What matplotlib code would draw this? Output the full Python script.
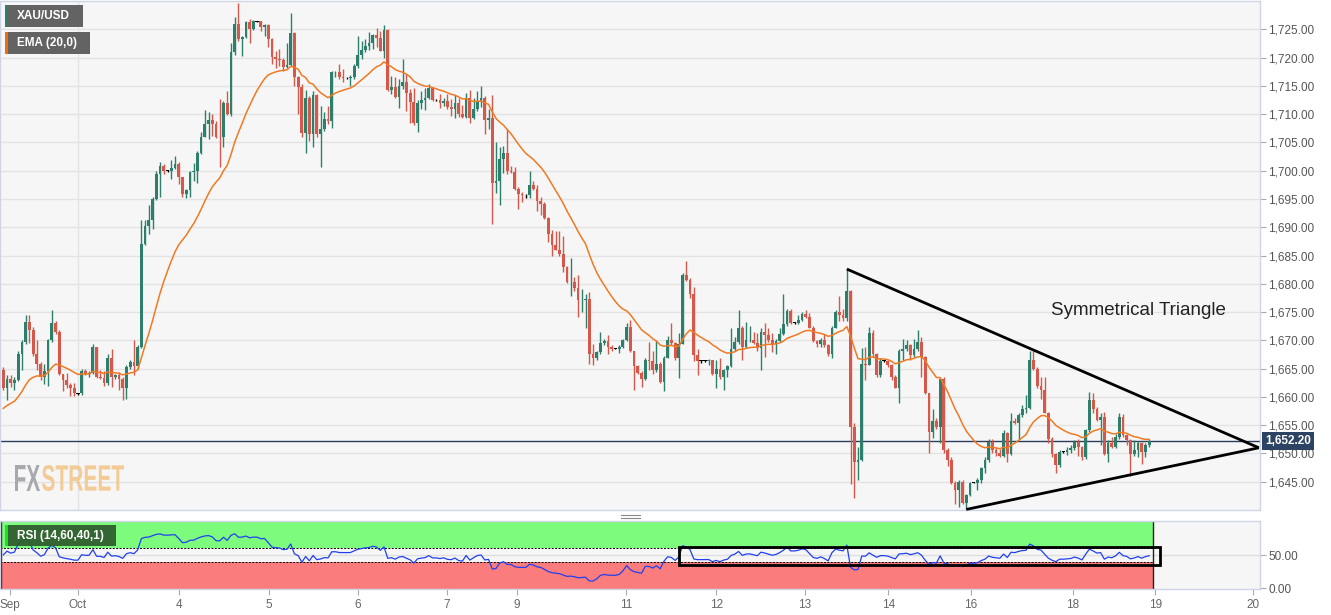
import matplotlib
matplotlib.use('Agg')
import matplotlib.pyplot as plt
import matplotlib.transforms as mtransforms
from matplotlib.patches import Rectangle, PathPatch
from matplotlib.textpath import TextPath
from matplotlib.font_manager import FontProperties
import numpy as np

plt.rcParams['font.family'] = ['Liberation Sans', 'DejaVu Sans']

# ---- data: XAU/USD hourly candles (open of each candle = previous close) ----
first_open = 1664.7
closes = [
    1661.5, 1663.2, 1662.4, 1662.9, 1667.6, 1669.7, 1673.2, 1671.8, 1667.6, 1665.9,
    1663.5, 1664.6, 1670.0, 1673.1, 1671.5, 1664.0, 1662.9, 1662.1, 1661.5, 1660.6,
    1660.6, 1664.6, 1664.1, 1664.2, 1668.8, 1663.5, 1663.4, 1662.4, 1666.9, 1663.5,
    1663.8, 1663.1, 1661.5, 1665.3, 1666.2, 1665.4, 1668.8, 1687.1, 1690.3, 1691.2,
    1695.0, 1699.4, 1700.9, 1700.0, 1700.0, 1700.5, 1701.2, 1698.8, 1695.9, 1696.5,
    1699.7, 1700.0, 1703.2, 1706.0, 1708.2, 1708.9, 1708.2, 1706.0, 1705.9, 1711.9,
    1710.0, 1720.9, 1725.9, 1723.2, 1723.6, 1726.2, 1725.0, 1726.4, 1726.4, 1725.4,
    1725.8, 1723.2, 1720.1, 1719.7, 1719.5, 1718.4, 1718.7, 1724.4, 1716.6, 1714.8,
    1706.6, 1712.8, 1706.4, 1713.3, 1706.4, 1707.4, 1709.1, 1708.7, 1717.4, 1717.5,
    1716.5, 1716.4, 1716.4, 1716.5, 1718.5, 1720.4, 1721.3, 1722.1, 1722.5, 1724.0,
    1723.5, 1721.2, 1724.8, 1714.2, 1714.8, 1713.1, 1715.0, 1715.6, 1713.8, 1712.1,
    1708.4, 1711.9, 1712.5, 1712.9, 1714.6, 1712.5, 1712.5, 1711.9, 1712.4, 1711.2,
    1710.9, 1711.9, 1710.0, 1709.5, 1712.9, 1709.3, 1710.9, 1712.4, 1712.8, 1708.9,
    1709.3, 1697.9, 1698.2, 1702.1, 1703.2, 1699.9, 1699.7, 1696.8, 1695.8, 1695.7,
    1695.7, 1697.5, 1696.8, 1694.7, 1694.1, 1691.6, 1688.8, 1686.8, 1686.0, 1685.3,
    1682.9, 1680.3, 1680.4, 1679.3, 1677.1, 1677.2, 1677.3, 1667.6, 1666.9, 1667.9,
    1669.5, 1669.9, 1668.8, 1668.5, 1668.5, 1668.8, 1670.1, 1672.4, 1668.1, 1665.4,
    1664.2, 1663.2, 1666.5, 1666.4, 1664.7, 1665.8, 1662.6, 1666.9, 1670.1, 1669.5,
    1666.9, 1669.4, 1681.6, 1680.7, 1678.2, 1667.4, 1666.4, 1666.4, 1666.4, 1666.5,
    1664.0, 1665.0, 1663.5, 1664.8, 1665.4, 1668.5, 1669.7, 1672.1, 1668.8, 1670.0,
    1670.1, 1669.5, 1668.7, 1671.5, 1670.9, 1670.1, 1669.4, 1669.9, 1671.1, 1672.8,
    1675.2, 1673.1, 1673.1, 1673.6, 1674.6, 1674.2, 1672.2, 1669.9, 1669.3, 1670.1,
    1669.1, 1667.6, 1672.2, 1675.0, 1674.4, 1674.0, 1678.8, 1654.7, 1648.5, 1648.9,
    1665.8, 1665.6, 1671.3, 1667.5, 1663.8, 1666.4, 1666.4, 1665.6, 1663.5, 1661.6,
    1668.1, 1668.5, 1669.1, 1667.4, 1668.4, 1669.7, 1667.1, 1660.6, 1653.8, 1655.8,
    1654.7, 1663.1, 1650.6, 1648.9, 1644.7, 1643.6, 1645.0, 1641.2, 1642.6, 1644.8,
    1644.8, 1645.3, 1647.4, 1648.8, 1652.1, 1650.6, 1650.1, 1649.5, 1653.6, 1649.9,
    1655.8, 1655.4, 1656.8, 1657.8, 1658.1, 1666.5, 1665.0, 1661.9, 1661.3, 1657.2,
    1652.6, 1649.9, 1647.9, 1650.3, 1650.3, 1650.6, 1650.9, 1652.1, 1651.1, 1649.4,
    1654.1, 1659.5, 1657.9, 1656.0, 1656.5, 1649.9, 1651.9, 1651.2, 1652.9, 1656.4,
    1653.2, 1652.4, 1649.9, 1650.6, 1651.8, 1650.3, 1651.5, 1652.2,
]
highs = [
    1665.3, 1663.8, 1663.8, 1663.5, 1668.1, 1670.0, 1674.4, 1674.4, 1672.4, 1670.0,
    1666.2, 1665.9, 1670.3, 1675.3, 1673.5, 1671.8, 1664.1, 1664.2, 1662.4, 1662.4,
    1660.7, 1665.0, 1665.0, 1664.6, 1669.4, 1668.9, 1664.7, 1664.6, 1667.5, 1668.4,
    1664.1, 1664.4, 1663.5, 1665.6, 1666.6, 1670.0, 1669.1, 1691.2, 1691.2, 1694.0,
    1695.3, 1700.0, 1701.5, 1701.2, 1700.1, 1701.8, 1702.6, 1701.5, 1698.8, 1696.8,
    1700.0, 1701.3, 1703.5, 1706.8, 1710.7, 1710.3, 1710.0, 1708.8, 1712.6, 1712.4,
    1714.0, 1722.6, 1727.1, 1729.7, 1723.8, 1726.5, 1726.8, 1726.6, 1726.5, 1726.2,
    1725.9, 1725.9, 1723.4, 1721.2, 1721.5, 1720.0, 1722.5, 1727.9, 1724.6, 1716.8,
    1715.3, 1714.2, 1713.2, 1714.1, 1713.5, 1711.5, 1710.3, 1711.5, 1717.6, 1717.6,
    1718.8, 1717.9, 1716.5, 1716.9, 1718.8, 1723.8, 1722.9, 1723.2, 1724.6, 1724.2,
    1725.2, 1724.7, 1725.8, 1725.0, 1716.8, 1716.6, 1716.2, 1719.7, 1717.1, 1714.4,
    1714.6, 1712.5, 1714.1, 1714.6, 1715.3, 1714.8, 1712.6, 1713.5, 1712.9, 1713.5,
    1712.6, 1713.4, 1712.8, 1711.6, 1713.8, 1714.2, 1712.8, 1714.0, 1715.0, 1713.2,
    1710.9, 1713.4, 1705.0, 1704.1, 1704.4, 1707.4, 1700.9, 1700.7, 1697.2, 1696.2,
    1695.9, 1699.9, 1698.2, 1697.4, 1695.3, 1694.4, 1691.8, 1689.5, 1689.4, 1689.4,
    1688.5, 1683.1, 1684.6, 1681.2, 1681.5, 1679.1, 1678.2, 1678.5, 1669.4, 1668.2,
    1671.5, 1670.3, 1670.9, 1669.1, 1668.6, 1669.1, 1670.3, 1673.1, 1673.6, 1668.2,
    1665.6, 1664.6, 1666.9, 1669.7, 1668.1, 1669.9, 1666.2, 1667.2, 1670.7, 1673.1,
    1669.7, 1671.3, 1681.9, 1684.1, 1681.1, 1679.4, 1668.4, 1666.6, 1666.5, 1666.7,
    1666.2, 1666.6, 1666.8, 1665.0, 1665.6, 1672.2, 1670.6, 1675.3, 1672.5, 1673.2,
    1672.6, 1671.5, 1671.3, 1672.1, 1673.1, 1672.1, 1671.3, 1670.3, 1672.1, 1678.2,
    1675.6, 1675.6, 1673.2, 1674.4, 1675.0, 1675.4, 1674.8, 1672.5, 1670.1, 1670.5,
    1671.2, 1669.4, 1672.5, 1675.4, 1677.9, 1675.6, 1682.6, 1678.9, 1655.3, 1651.2,
    1668.7, 1668.8, 1672.4, 1671.8, 1667.8, 1666.8, 1666.5, 1666.6, 1665.9, 1663.8,
    1668.5, 1670.3, 1670.1, 1669.4, 1670.3, 1671.8, 1670.6, 1667.2, 1660.7, 1657.8,
    1656.2, 1663.2, 1663.5, 1650.9, 1649.3, 1645.2, 1645.3, 1645.3, 1642.9, 1645.0,
    1644.9, 1645.6, 1647.6, 1649.4, 1652.6, 1652.5, 1650.9, 1650.7, 1654.1, 1653.8,
    1657.2, 1656.2, 1657.1, 1658.5, 1660.3, 1668.2, 1668.2, 1665.3, 1663.5, 1663.5,
    1657.4, 1652.9, 1650.1, 1650.6, 1650.4, 1651.2, 1651.5, 1652.4, 1652.5, 1651.3,
    1654.4, 1660.9, 1660.7, 1658.2, 1657.1, 1657.4, 1652.4, 1652.9, 1653.5, 1657.2,
    1656.9, 1653.4, 1652.6, 1652.4, 1652.2, 1652.1, 1651.8, 1652.5,
]
lows = [
    1661.2, 1659.4, 1661.8, 1661.2, 1662.8, 1664.8, 1669.4, 1669.5, 1667.2, 1664.7,
    1662.9, 1662.2, 1661.9, 1669.7, 1671.2, 1663.8, 1661.1, 1661.6, 1660.1, 1660.1,
    1660.4, 1660.3, 1663.8, 1663.5, 1664.0, 1663.4, 1663.2, 1661.9, 1662.1, 1661.8,
    1663.2, 1661.2, 1659.5, 1659.7, 1665.0, 1663.8, 1665.0, 1668.7, 1686.8, 1688.8,
    1689.7, 1694.8, 1695.3, 1699.4, 1699.8, 1698.5, 1700.3, 1697.6, 1695.3, 1695.2,
    1695.3, 1698.2, 1697.8, 1702.9, 1705.9, 1705.6, 1706.2, 1705.8, 1700.6, 1704.1,
    1709.9, 1709.7, 1720.5, 1722.9, 1720.3, 1723.5, 1722.6, 1724.8, 1726.2, 1724.7,
    1723.8, 1721.8, 1718.8, 1718.2, 1718.5, 1717.6, 1718.2, 1718.5, 1715.0, 1710.0,
    1706.0, 1703.1, 1705.3, 1704.2, 1705.9, 1700.6, 1707.1, 1708.2, 1707.6, 1716.5,
    1716.2, 1715.6, 1716.2, 1715.0, 1716.2, 1718.2, 1719.7, 1720.9, 1721.3, 1721.5,
    1721.8, 1721.1, 1720.0, 1714.1, 1713.5, 1712.8, 1711.1, 1714.4, 1710.6, 1708.5,
    1708.1, 1706.9, 1710.9, 1710.7, 1712.6, 1712.4, 1712.4, 1711.1, 1711.5, 1710.9,
    1709.7, 1709.4, 1709.5, 1709.4, 1709.4, 1708.4, 1709.1, 1710.6, 1711.2, 1706.4,
    1707.4, 1690.6, 1696.0, 1694.0, 1699.5, 1699.4, 1699.5, 1696.6, 1693.2, 1694.4,
    1695.2, 1695.2, 1696.6, 1692.8, 1692.1, 1691.5, 1687.4, 1685.0, 1685.9, 1685.0,
    1682.1, 1680.1, 1677.9, 1678.8, 1674.2, 1675.0, 1672.1, 1665.8, 1665.6, 1666.6,
    1667.5, 1669.1, 1667.5, 1668.2, 1668.4, 1667.8, 1668.7, 1669.9, 1667.9, 1661.3,
    1664.0, 1661.8, 1662.9, 1664.7, 1664.1, 1664.4, 1662.4, 1661.1, 1666.8, 1669.1,
    1666.6, 1663.4, 1669.3, 1680.5, 1677.4, 1666.4, 1663.8, 1666.0, 1666.2, 1665.6,
    1663.8, 1661.6, 1663.2, 1661.3, 1663.6, 1665.3, 1668.2, 1669.4, 1666.6, 1668.7,
    1669.7, 1669.4, 1668.2, 1664.8, 1667.1, 1669.7, 1667.9, 1667.6, 1669.7, 1670.9,
    1672.6, 1672.9, 1672.9, 1672.9, 1673.4, 1674.0, 1672.1, 1669.7, 1668.9, 1668.8,
    1668.8, 1667.2, 1666.9, 1672.1, 1673.5, 1673.4, 1673.5, 1644.6, 1642.2, 1645.3,
    1648.7, 1662.9, 1665.6, 1667.1, 1663.6, 1663.5, 1666.2, 1665.2, 1662.9, 1661.5,
    1658.9, 1666.5, 1668.2, 1666.6, 1667.1, 1668.1, 1663.6, 1660.5, 1650.0, 1652.8,
    1654.4, 1651.8, 1650.1, 1647.8, 1644.6, 1641.1, 1640.6, 1641.1, 1640.1, 1642.4,
    1644.7, 1643.5, 1644.7, 1646.5, 1648.5, 1650.0, 1649.5, 1649.3, 1649.4, 1648.4,
    1649.7, 1655.2, 1652.6, 1656.5, 1657.1, 1657.8, 1664.8, 1661.6, 1659.7, 1657.1,
    1651.8, 1649.4, 1646.6, 1647.6, 1650.0, 1649.7, 1650.0, 1650.6, 1649.5, 1648.8,
    1649.1, 1653.8, 1657.2, 1655.8, 1651.5, 1649.7, 1648.5, 1650.9, 1650.9, 1652.6,
    1652.9, 1651.5, 1646.0, 1649.5, 1649.4, 1648.2, 1649.3, 1651.2,
]
ema_seed = 1657.6          # EMA value at the left edge of the chart
rsi_seed_gain = 0.55       # RSI state carried in from before the first candle
rsi_seed_loss = 0.30
last_price = 1652.20

x_tick_pos = [1.8, 20.0, 47.1, 71.2, 95.0, 118.9, 137.6, 166.9, 191.0, 214.8,
              237.1, 259.3, 286.6, 308.6, 334.9]
x_tick_labels = ['Sep', 'Oct', '4', '5', '6', '7', '9', '11', '12', '13',
                 '14', '16', '18', '19', '20']
price_ticks = list(range(1645, 1730, 5))
rsi_ticks = [0, 50]
rsi_hi, rsi_lo = 60, 40

tri_top = 226          # candle whose high starts the upper trendline
tri_bottom = 258       # candle whose low starts the lower trendline
apex_x, apex_price = 336.4, 1651.0
rsi_box = (181.1, 309.9, 35, 62)   # x from, x to, rsi from, rsi to

# ---- figure ----
W, H = 1331, 615
fig = plt.figure(figsize=(W / 100, H / 100), dpi=100)
fig.patch.set_facecolor('white')


def fx(px):
    return px / W


def fy(py):
    return 1 - py / H


ax = fig.add_axes([0, fy(510), fx(1260), fy(1) - fy(510)])
ax2 = fig.add_axes([0, fy(589), fx(1260), fy(521) - fy(589)])

xlim = (-0.88, 336.7)
border = '#cfd5e6'
for a in (ax, ax2):
    a.set_facecolor('#f6f6f6')
    a.set_xlim(*xlim)
    for s in a.spines.values():
        s.set_color(border)
        s.set_linewidth(1)

# ---- price panel ----
n = len(closes)
idx = np.arange(n)
c = np.array(closes)
o = np.array([first_open] + closes[:-1])
h = np.maximum(np.array(highs), np.maximum(o, c))
l = np.minimum(np.array(lows), np.minimum(o, c))
green, red = '#2e7e6c', '#d5584a'
cols = np.where(c > o, green, np.where(c < o, red, 'black'))

ax.set_ylim(1640.0, 1730.0)
ax.set_yticks(price_ticks)
ax.yaxis.tick_right()
ax.set_yticklabels([f'{v:,.2f}' for v in price_ticks])
ax.tick_params(axis='y', length=4, color='#aaaaaa', labelsize=8.5,
               labelcolor='#555555', pad=2)
ax.set_xticks([])
ax.grid(axis='y', color='#e3e3e3', lw=1, zorder=0)
ax.set_axisbelow(True)
ax.axvline(x_tick_pos[1], color='#e3e3e3', lw=1, zorder=0)

ax.vlines(idx, l, h, colors=cols, lw=1, zorder=2)
flat = c == o
body = ~flat
ax.bar(idx[body], np.abs(c - o)[body], bottom=np.minimum(o, c)[body],
       width=0.74, color=cols[body], linewidth=0, zorder=3)
ax.bar(idx[flat], 0.14, bottom=c[flat] - 0.07, width=0.95,
       color='black', linewidth=0, zorder=3)

# EMA(20)
k = 2 / 21
ema = []
prev = ema_seed
for v in closes:
    prev = prev + k * (v - prev)
    ema.append(prev)
ax.plot(idx, ema, color='#f07a22', lw=1.1, zorder=4)

# last price line and tag
ax.axhline(last_price, color='#2c3e5a', lw=1, zorder=1)
tr = mtransforms.blended_transform_factory(ax.transAxes, ax.transData)
ax.text(1.004, last_price, f'{last_price:,.2f}', transform=tr, ha='left',
        va='center', color='white', fontsize=8.5, fontweight='bold',
        bbox=dict(boxstyle='square,pad=0.22', fc='#2d4363', ec='none'),
        clip_on=False, zorder=6)

# symmetrical triangle
ax.plot([tri_top, apex_x], [highs[tri_top], apex_price], color='black',
        lw=2, solid_capstyle='butt', zorder=5, clip_on=False)
ax.plot([tri_bottom, apex_x], [lows[tri_bottom], apex_price], color='black',
        lw=2, solid_capstyle='butt', zorder=5, clip_on=False)
ax.text(304, 1675.3, 'Symmetrical Triangle', fontsize=13.5, color='#222222',
        ha='center', va='center', zorder=6)

# ---- RSI panel ----
ag, al = rsi_seed_gain, rsi_seed_loss
rsi = []
pc = first_open
for v in closes:
    d = v - pc
    ag = (ag * 13 + max(d, 0)) / 14
    al = (al * 13 + max(-d, 0)) / 14
    rsi.append(100 - 100 / (1 + ag / al))
    pc = v

ax2.set_ylim(-1.5, 101.5)
ax2.set_yticks(rsi_ticks)
ax2.yaxis.tick_right()
ax2.set_yticklabels([f'{v:.2f}' for v in rsi_ticks])
ax2.tick_params(axis='y', length=4, color='#aaaaaa', labelsize=8.5,
                labelcolor='#555555', pad=2)
ax2.axhline(50, color='#dedede', lw=1, zorder=0)
x_end = n - 0.1
ax2.fill_between([xlim[0], x_end], rsi_hi, 101.5, color='#7dfb7d', lw=0, zorder=1)
ax2.fill_between([xlim[0], x_end], -1.5, rsi_lo, color='#fb7c7c', lw=0, zorder=1)
ax2.hlines([rsi_hi, rsi_lo], xlim[0], x_end, colors='black', lw=0.7,
           linestyles=(0, (2, 1.5)), zorder=2)
ax2.vlines([xlim[0] + 0.3, x_end], -1.5, 101.5, colors='#222222', lw=1, zorder=2)
ax2.plot(idx, rsi, color='#2040f0', lw=0.9, zorder=3)
ax2.add_patch(Rectangle((rsi_box[0], rsi_box[2]), rsi_box[1] - rsi_box[0],
                        rsi_box[3] - rsi_box[2], fill=False, ec='black',
                        lw=2, zorder=4, clip_on=False))

ax2.set_xticks(x_tick_pos)
ax2.set_xticklabels(x_tick_labels)
ax2.tick_params(axis='x', length=4, color='#aaaaaa', labelsize=8.5,
                labelcolor='#666666', pad=3)

# ---- legend boxes ----
def label_box(x0, x1, y0, y1, stripe, text, bg):
    fig.patches.append(Rectangle((fx(x0), fy(y1)), fx(x1 - x0), fy(y0) - fy(y1),
                                 transform=fig.transFigure, fc=bg, ec='none',
                                 alpha=0.95, zorder=10))
    fig.patches.append(Rectangle((fx(x0), fy(y1)), fx(3), fy(y0) - fy(y1),
                                 transform=fig.transFigure, fc=stripe, ec='none',
                                 zorder=11))
    fig.text(fx(x0 + 12), fy((y0 + y1) / 2), text, color='white', fontsize=8.5,
             fontweight='bold', ha='left', va='center', zorder=12)


label_box(5, 83, 5, 27, green, 'XAU/USD', '#5b5b5b')
label_box(5, 90, 32, 54, '#f06a10', 'EMA (20,0)', '#5b5b5b')
label_box(5, 116, 525, 546, '#1ee01e', 'RSI (14,60,40,1)', '#2f5e2f')

# ---- FXSTREET watermark ----
def wordmark(text, x0, x1, ytop, ybot, color):
    fp = FontProperties(family='Liberation Sans', weight='bold')
    tp = TextPath((0, 0), text, size=10, prop=fp)
    b = tp.get_extents()
    sx = (x1 - x0) / b.width
    sy = (ybot - ytop) / b.height
    t = mtransforms.Affine2D().translate(-b.x0, -b.y0).scale(sx, sy) \
        .translate(x0, H - ybot)
    fig.patches.append(PathPatch(t.transform_path(tp), fc=color, ec='none',
                                 alpha=0.85, transform=mtransforms.IdentityTransform(),
                                 zorder=1))


wordmark('FX', 15, 40, 465, 491, '#9a9ca3')
wordmark('STREET', 42, 124, 465, 491, '#f2c486')

# panel grip
for gy in (515, 517.5):
    fig.add_artist(plt.Line2D([fx(621), fx(640)], [fy(gy), fy(gy)],
                              color='#888888', lw=0.8))

fig.savefig('out.png', dpi=100)
